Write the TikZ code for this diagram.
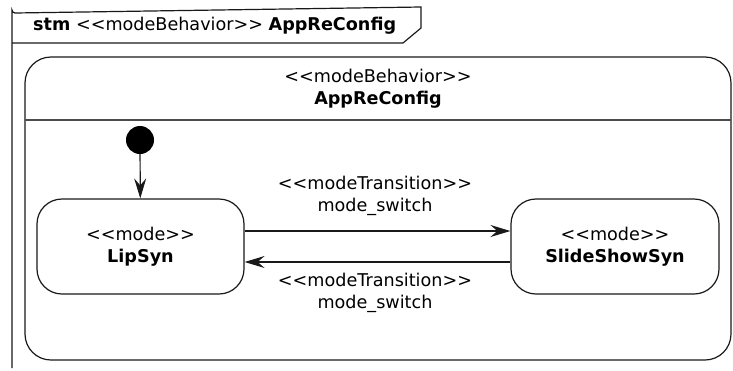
\documentclass[tikz,border=0pt]{standalone}
\usepackage{fontspec}
\setmainfont{DejaVu Sans}
\usetikzlibrary{arrows.meta,calc}
\tikzset{
  ln/.style={line width=1.2pt, draw=black!90},
  tip/.style={-{Stealth[length=20pt,width=12pt,inset=7pt]}},
  modebox/.style={ln, rounded corners=25pt, minimum width=207pt, minimum height=95pt, align=center, inner sep=0pt, font=\fontsize{17.6}{22}\selectfont},
  lbl/.style={align=center, inner sep=0pt, font=\fontsize{17.6}{22}\selectfont},
}
\begin{document}
\begin{tikzpicture}[x=1pt,y=-1pt]
\useasboundingbox (0,0) rectangle (733,370);
% frame
\draw[ln] (12,368) -- (12,10) arc[start angle=180,end angle=90,radius=3] -- (421,7) -- (421,28) -- (403,43) -- (12,43);
\node[lbl, anchor=west] (tab) at (33,26) {\textbf{stm} <{}<modeBehavior>{}> \textbf{AppReConfig}};
% region
\draw[ln, rounded corners=26pt] (25,57) rectangle (731,360);
\draw[ln, draw=black!70] (25,120) -- (731,120);
\node[lbl] (title) at (378,88.5) {<{}<modeBehavior>{}>\\\textbf{AppReConfig}};
% states
\node[circle, fill=black, minimum size=28pt, inner sep=0pt] (init) at (140,140) {};
\node[modebox] (lip) at (140.5,246.5) {<{}<mode>{}>\\\textbf{LipSyn}};
\node[modebox, minimum width=208pt] (slide) at (615,246.5) {<{}<mode>{}>\\\textbf{SlideShowSyn}};
\draw[ln, tip] (init) -- (lip);
\draw[ln, tip] ($(lip.east)+(0,-15.5)$) coordinate (a1) -- (a1 -| slide.west);
\draw[ln, tip] ($(slide.west)+(0,15.5)$) coordinate (a2) -- (a2 -| lip.east);
\node[lbl] (l1) at (375,196) {<{}<modeTransition>{}>\\mode\_switch};
\node[lbl] (l2) at (375,292.5) {<{}<modeTransition>{}>\\mode\_switch};
\end{tikzpicture}
\end{document}
